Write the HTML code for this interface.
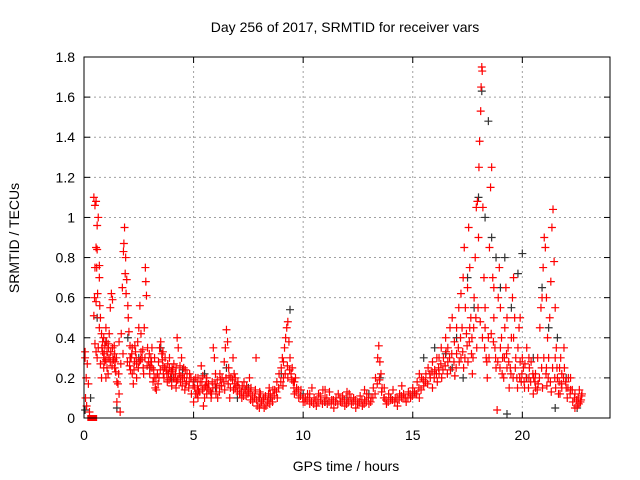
<!DOCTYPE html>
<html><head><meta charset="utf-8"><style>
html,body{margin:0;padding:0;background:#fff}
svg{display:block;font-family:"Liberation Sans",sans-serif}
</style></head><body>
<svg id="chart" width="640" height="480" xmlns="http://www.w3.org/2000/svg">
<rect width="640" height="480" fill="#fff"/>
<text x="345" y="32" text-anchor="middle" font-size="14">Day 256 of 2017, SRMTID for receiver vars</text>
<text x="346" y="471" text-anchor="middle" font-size="14">GPS time / hours</text>
<text transform="translate(19,238) rotate(-90)" text-anchor="middle" font-size="14">SRMTID / TECUs</text>
<g id="grid"></g>
<g id="ticks"></g>
<g id="blackpts"></g>
<g id="redpts"></g>
<rect x="84" y="57" width="526" height="361" fill="none" stroke="#000" stroke-width="1"/>
</svg>
<script>
const xTicks=[0,5,10,15,20];
const yTicks=[0,0.2,0.4,0.6,0.8,1,1.2,1.4,1.6,1.8];
const yTickLabels=["0","0.2","0.4","0.6","0.8","1","1.2","1.4","1.6","1.8"];
const redPts=[
[0.05,0.33],[0.05,0.3],[0.07,0.1],[0.1,0.2],[0.12,0.06],[0.15,0.27],[0.2,0.17],[0.25,0.03],
[0.45,1.1],[0.5,1.06],[0.55,1.08],[0.6,0.96],[0.65,1.0],[0.55,0.85],[0.6,0.84],[0.5,0.75],[0.58,0.75],[0.7,0.76],
[0.48,0.6],[0.55,0.58],[0.62,0.62],[0.7,0.7],[0.72,0.56],[0.45,0.51],[0.5,0.37],[0.55,0.33],[0.6,0.3],[0.65,0.35],
[0.7,0.45],[0.75,0.5],[0.8,0.42],[0.85,0.38],[0.9,0.3],[0.95,0.36],[1.0,0.29],[1.05,0.33],[1.1,0.37],[1.15,0.42],
[0.75,0.27],[0.8,0.2],[0.9,0.25],[1.0,0.2],[1.1,0.22],[1.2,0.55],[1.25,0.62],[1.3,0.59],[1.35,0.29],[1.4,0.32],
[1.45,0.23],[1.5,0.18],[1.55,0.17],[1.6,0.12],[1.5,0.08],[1.65,0.03],[1.6,0.38],[1.7,0.42],[1.75,0.65],[1.8,0.83],
[1.82,0.87],[1.85,0.95],[1.9,0.8],[1.88,0.72],[1.95,0.69],[1.92,0.62],[2.0,0.56],[2.02,0.5],[2.05,0.43],[2.1,0.36],
[2.15,0.3],[2.2,0.22],[2.25,0.17],[2.3,0.28],[2.35,0.33],[2.4,0.27],[2.45,0.38],[2.5,0.45],[2.55,0.56],[2.6,0.42],
[2.65,0.3],[2.7,0.25],[2.75,0.45],[2.8,0.75],[2.82,0.68],[2.85,0.61],[2.9,0.35],[2.95,0.28],[3.0,0.22],[3.05,0.3],
[3.1,0.25],[3.15,0.18],[3.2,0.2],[3.25,0.15],[3.3,0.14],[3.35,0.22],[3.4,0.28],[3.45,0.35],[3.5,0.38],[3.55,0.32],
[3.6,0.26],[3.65,0.2],[3.7,0.3],[3.75,0.24],[3.8,0.18],[3.85,0.22],[3.9,0.25],[3.95,0.2],[4.0,0.16],[4.05,0.24],
[4.1,0.27],[4.15,0.2],[4.2,0.15],[4.25,0.4],[4.3,0.35],[4.35,0.22],[4.4,0.18],[4.5,0.2],[4.55,0.25],[4.6,0.14],
[4.65,0.17],[4.7,0.22],[4.8,0.18],[4.9,0.12],[5.0,0.08],[5.05,0.15],[5.1,0.2],[5.15,0.12],[5.2,0.1],[5.3,0.18],
[5.35,0.26],[5.4,0.14],[5.45,0.06],[5.5,0.1],[5.55,0.16],[5.6,0.2],[5.7,0.14],[5.8,0.1],[5.85,0.18],[5.9,0.35],
[5.95,0.3],[6.0,0.22],[6.05,0.15],[6.1,0.1],[6.2,0.16],[6.3,0.2],[6.4,0.28],[6.45,0.35],[6.5,0.44],[6.55,0.38],
[6.6,0.25],[6.65,0.1],[6.7,0.2],[6.8,0.3],[6.85,0.22],[6.9,0.15],[7.0,0.13],[7.1,0.12],[7.2,0.1],[7.3,0.14],
[7.4,0.11],[7.5,0.13],[7.55,0.2],[7.6,0.09],[7.7,0.08],[7.8,0.12],[7.85,0.3],[7.9,0.06],[8.0,0.05],[8.1,0.08],
[8.2,0.1],[8.3,0.06],[8.4,0.09],[8.5,0.12],[8.6,0.08],[8.7,0.14],[8.8,0.18],[8.9,0.22],[9.0,0.25],[9.05,0.3],
[9.1,0.2],[9.15,0.35],[9.2,0.4],[9.25,0.45],[9.3,0.48],[9.35,0.38],[9.4,0.3],[9.45,0.22],[9.5,0.25],[9.55,0.18],
[9.6,0.12],[9.65,0.2],[9.7,0.15],[9.8,0.1],[9.9,0.14],[10.0,0.08],[10.1,0.1],[10.2,0.12],[10.3,0.07],[10.4,0.15],
[10.5,0.1],[10.6,0.06],[10.7,0.12],[10.8,0.09],[10.9,0.14],[11.0,0.1],[11.1,0.07],[11.2,0.13],[11.3,0.09],[11.4,0.05],
[11.5,0.1],[11.6,0.12],[11.7,0.08],[11.8,0.11],[11.9,0.06],[12.0,0.09],[12.1,0.12],[12.2,0.07],[12.3,0.1],[12.4,0.05],
[12.5,0.08],[12.6,0.11],[12.7,0.06],[12.8,0.09],[12.9,0.12],[13.0,0.07],[13.1,0.1],[13.2,0.15],[13.3,0.2],[13.4,0.3],
[13.45,0.36],[13.5,0.28],[13.55,0.22],[13.6,0.15],[13.7,0.1],[13.8,0.07],[13.9,0.12],[14.0,0.09],[14.1,0.14],[14.2,0.1],
[14.3,0.06],[14.4,0.12],[14.5,0.16],[14.6,0.1],[14.7,0.08],[14.8,0.13],[14.9,0.1],[15.0,0.15],[15.1,0.12],[15.2,0.18],
[15.3,0.1],[15.4,0.2],[15.5,0.16],[15.6,0.22],[15.7,0.25],[15.8,0.2],[15.9,0.28],[16.0,0.24],[16.1,0.3],[16.2,0.22],
[16.3,0.35],[16.4,0.3],[16.5,0.4],[16.6,0.28],[16.7,0.45],[16.8,0.5],[16.9,0.38],[17.0,0.32],[17.1,0.55],[17.2,0.62],
[17.25,0.45],[17.3,0.7],[17.35,0.85],[17.4,0.55],[17.45,0.42],[17.5,0.65],[17.55,0.95],[17.6,0.75],[17.65,0.5],[17.7,0.4],
[17.75,0.3],[17.8,0.6],[17.85,0.8],[17.9,1.05],[17.95,1.08],[18.0,0.9],[18.02,1.25],[18.05,1.38],[18.1,1.53],[18.12,1.65],
[18.15,1.75],[18.17,1.73],[18.2,1.05],[18.25,0.7],[18.3,0.55],[18.35,0.3],[18.4,0.2],[18.45,0.4],[18.5,0.85],[18.55,1.15],
[18.6,1.25],[18.65,0.7],[18.7,0.5],[18.75,0.35],[18.8,0.25],[18.85,0.04],[18.9,0.6],[18.95,0.75],[19.0,0.55],[19.05,0.4],
[19.1,0.3],[19.15,0.2],[19.2,0.45],[19.25,0.65],[19.3,0.5],[19.35,0.35],[19.4,0.15],[19.45,0.25],[19.5,0.4],[19.55,0.6],
[19.6,0.7],[19.65,0.5],[19.7,0.3],[19.75,0.2],[19.8,0.35],[19.85,0.45],[19.9,0.28],[19.95,0.18],[20.0,0.3],[20.05,0.25],
[20.1,0.15],[20.2,0.35],[20.3,0.2],[20.4,0.28],[20.5,0.12],[20.6,0.22],[20.7,0.3],[20.8,0.45],[20.85,0.55],[20.9,0.6],
[20.95,0.75],[21.0,0.9],[21.05,0.85],[21.1,0.6],[21.15,0.4],[21.2,0.3],[21.25,0.5],[21.3,0.68],[21.35,0.95],[21.4,1.04],
[21.45,0.78],[21.5,0.55],[21.55,0.35],[21.6,0.2],[21.65,0.12],[21.7,0.25],[21.75,0.3],[21.8,0.22],[21.9,0.35],[22.0,0.15],
[22.05,0.1],[22.1,0.2],[22.2,0.14],[22.3,0.08],[22.4,0.12],[22.5,0.06],[22.55,0.1],[22.6,0.14],[22.65,0.08],[22.7,0.11],
[0.9,0.4],[1.0,0.45],[1.1,0.3],[1.2,0.28],[1.3,0.35],[1.4,0.25],[2.1,0.3],[2.2,0.35],[2.4,0.2],[2.6,0.33],[3.1,0.35],
[3.6,0.33],[3.9,0.3],[4.2,0.25],[4.45,0.3],[5.2,0.2],[5.6,0.12],[6.2,0.22],[6.9,0.2],[7.3,0.18],[8.05,0.12],[8.45,0.15],
[9.1,0.28],[9.3,0.2],[9.6,0.18],[10.3,0.12],[11.0,0.14],[12.0,0.13],[12.8,0.14],[13.7,0.15],[14.5,0.1],[15.3,0.22],
[15.9,0.15],[16.2,0.3],[16.6,0.35],[17.0,0.45],[17.2,0.3],[17.6,0.45],[18.3,0.45],[18.7,0.65],[19.0,0.35],[19.3,0.25],
[19.6,0.4],[19.9,0.5],[20.3,0.3],[20.6,0.15],[21.1,0.25],[21.5,0.3],[21.8,0.15],[22.2,0.2],[22.4,0.05]
];
const redPtsExtra=[
[0.85,0.33],[0.95,0.28],[1.05,0.25],[1.12,0.35],[1.18,0.3],[1.28,0.26],[1.38,0.36],[1.48,0.3],[1.58,0.22],[1.68,0.27],
[1.78,0.32],[1.98,0.28],[2.08,0.26],[2.18,0.32],[2.28,0.24],[2.38,0.3],[2.48,0.25],[2.58,0.29],[2.68,0.34],[2.78,0.3],
[2.88,0.26],[2.98,0.32],[3.08,0.28],[3.18,0.24],[3.28,0.2],[3.38,0.17],[3.48,0.24],[3.58,0.29],[3.68,0.25],[3.78,0.22],
[3.88,0.19],[3.98,0.23],[4.08,0.2],[4.18,0.22],[4.28,0.19],[4.38,0.26],[4.48,0.16],[4.58,0.2],[4.68,0.18],[4.78,0.15],
[4.88,0.2],[4.98,0.16],[5.08,0.12],[5.18,0.16],[5.28,0.13],[5.38,0.18],[5.48,0.15],[5.58,0.18],[5.68,0.17],[5.78,0.13],
[5.88,0.15],[5.98,0.17],[6.08,0.19],[6.18,0.13],[6.28,0.16],[6.38,0.18],[6.48,0.2],[6.58,0.17],[6.68,0.15],[6.78,0.19],
[6.88,0.17],[6.98,0.16],[7.08,0.15],[7.18,0.13],[7.28,0.11],[7.38,0.14],[7.48,0.12],[7.58,0.13],[7.68,0.11],[7.78,0.1],
[7.88,0.09],[7.98,0.1],[8.08,0.07],[8.18,0.09],[8.28,0.11],[8.38,0.08],[8.48,0.07],[8.58,0.1],[8.68,0.11],[8.78,0.13],
[8.88,0.15],[8.98,0.18],[9.08,0.16],[9.18,0.22],[9.28,0.26],[9.38,0.24],[9.48,0.19],[9.58,0.15],[9.68,0.13],[9.78,0.14],
[9.88,0.11],[9.98,0.1],[10.08,0.08],[10.18,0.09],[10.28,0.1],[10.38,0.08],[10.48,0.07],[10.58,0.09],[10.68,0.08],[10.78,0.11],
[10.88,0.07],[10.98,0.08],[11.08,0.1],[11.18,0.08],[11.28,0.07],[11.38,0.09],[11.48,0.08],[11.58,0.07],[11.68,0.1],[11.78,0.08],
[11.88,0.09],[11.98,0.07],[12.08,0.08],[12.18,0.1],[12.28,0.08],[12.38,0.09],[12.48,0.07],[12.58,0.08],[12.68,0.09],[12.78,0.07],
[12.88,0.08],[12.98,0.1],[13.08,0.08],[13.18,0.1],[13.28,0.12],[13.38,0.17],[13.48,0.19],[13.58,0.13],[13.68,0.1],[13.78,0.09],
[13.88,0.08],[13.98,0.1],[14.08,0.09],[14.18,0.08],[14.28,0.1],[14.38,0.09],[14.48,0.11],[14.58,0.12],[14.68,0.1],[14.78,0.1],
[14.88,0.12],[14.98,0.11],[15.08,0.13],[15.18,0.12],[15.28,0.15],[15.38,0.14],[15.48,0.19],[15.58,0.18],[15.68,0.17],[15.78,0.22],
[15.88,0.23],[15.98,0.2],[16.08,0.22],[16.18,0.25],[16.28,0.27],[16.38,0.24],[16.48,0.26],[16.58,0.22],[16.68,0.3],[16.78,0.32],
[16.88,0.28],[16.98,0.25],[17.08,0.35],[17.18,0.4],[17.28,0.33],[17.38,0.3],[17.48,0.36],[17.58,0.38],[17.68,0.32],[17.78,0.45],
[17.88,0.5],[17.98,0.55],[18.08,0.48],[18.18,0.4],[18.28,0.35],[18.38,0.28],[18.48,0.3],[18.58,0.42],[18.68,0.38],[18.78,0.3],
[18.88,0.28],[18.98,0.25],[19.08,0.22],[19.18,0.3],[19.28,0.32],[19.38,0.28],[19.48,0.22],[19.58,0.2],[19.68,0.25],[19.78,0.15],
[19.88,0.2],[19.98,0.22],[20.08,0.18],[20.18,0.2],[20.28,0.15],[20.38,0.18],[20.48,0.22],[20.58,0.18],[20.68,0.14],[20.78,0.2],
[20.88,0.25],[20.98,0.3],[21.08,0.22],[21.18,0.2],[21.28,0.18],[21.38,0.25],[21.48,0.2],[21.58,0.25],[21.68,0.18],[21.78,0.17],
[21.88,0.2],[21.98,0.18],[22.08,0.15],[22.18,0.12],[22.28,0.14],[22.38,0.1],[22.48,0.09],[22.58,0.07],[22.68,0.09],[22.72,0.12],
[0.82,0.35],[0.92,0.32],[1.02,0.38],[1.22,0.33],[1.32,0.3],[1.42,0.28],[2.12,0.24],[2.32,0.36],[2.52,0.28],[2.72,0.22],
[3.02,0.26],[3.22,0.3],[3.42,0.2],[3.62,0.22],[3.82,0.27],[4.02,0.25],[4.22,0.18],[4.42,0.21],[4.62,0.24],[4.82,0.22],
[5.02,0.19],[5.22,0.14],[5.42,0.21],[5.62,0.15],[5.82,0.12],[6.02,0.12],[6.22,0.19],[6.42,0.14],[6.62,0.21],[6.82,0.14],
[7.02,0.18],[7.22,0.16],[7.42,0.16],[7.62,0.15],[7.82,0.14],[8.02,0.13],[8.22,0.05],[8.42,0.12],[8.62,0.14],[8.82,0.1],
[16.12,0.18],[16.32,0.2],[16.52,0.33],[16.72,0.24],[16.92,0.21],[17.12,0.28],[17.32,0.25],[17.52,0.28],[17.72,0.22],[17.92,0.35],
[20.12,0.27],[20.32,0.25],[20.52,0.2],[20.72,0.17],[20.92,0.15],[21.12,0.16],[21.32,0.13],[21.52,0.15],[21.72,0.12],[21.92,0.25]
];
const blackPts=[
[0.05,0.04],[0.3,0.1],[0.6,0.5],[1.0,0.38],[1.5,0.05],[2.0,0.4],[2.5,0.3],[3.0,0.25],[3.5,0.35],[4.0,0.2],
[4.5,0.24],[5.0,0.18],[5.5,0.22],[6.0,0.15],[6.5,0.25],[7.0,0.1],[7.5,0.15],[8.0,0.1],[8.5,0.1],[9.4,0.54],
[9.0,0.22],[10.0,0.12],[11.0,0.08],[12.0,0.1],[13.0,0.12],[13.5,0.2],[14.0,0.1],[15.0,0.12],[15.5,0.3],[16.0,0.35],
[16.5,0.32],[17.0,0.4],[17.5,0.7],[17.8,0.55],[18.0,1.1],[18.15,1.63],[18.3,1.0],[18.45,1.48],[18.6,0.9],[18.8,0.8],
[19.0,0.65],[19.2,0.8],[19.5,0.55],[19.8,0.72],[20.0,0.82],[20.2,0.2],[20.5,0.3],[20.9,0.65],[21.2,0.45],[21.6,0.4],
[22.0,0.2],[22.5,0.05],[21.5,0.05],[19.3,0.02],[16.8,0.25],[17.3,0.2]
];
const NS='http://www.w3.org/2000/svg';
const X0=84,X1=610,Y0=418,Y1=57,XMAX=24,YMAX=1.8;
function sx(t){return X0+t/XMAX*(X1-X0);}
function sy(v){return Y0-v/YMAX*(Y0-Y1);}
const grid=document.getElementById('grid'),ticks=document.getElementById('ticks');
function mk(tag,attrs,parent){const e=document.createElementNS(NS,tag);for(const k in attrs)e.setAttribute(k,attrs[k]);parent.appendChild(e);return e;}
yTicks.forEach((v,i)=>{
  const y=sy(v);
  if(i>0){const g=mk('line',{x1:X0,x2:X1,y1:y,y2:y,stroke:'#a0a0a0','stroke-dasharray':'2,3'},grid);
  
  }
  const t=mk('line',{x1:X0,x2:X0+6,y1:y,y2:y,stroke:'#000'},ticks);
  
  
  const t2=mk('line',{x1:X1-6,x2:X1,y1:y,y2:y,stroke:'#000'},ticks);
  
  
  const l=mk('text',{x:X0-9,y:y+5,'text-anchor':'end','font-size':'14'},ticks);
  l.textContent=yTickLabels[i];
  
  
});
xTicks.forEach((t,i)=>{
  const x=sx(t);
  if(i>0){const g=mk('line',{x1:x,x2:x,y1:Y0,y2:Y1,stroke:'#a0a0a0','stroke-dasharray':'2,3'},grid);
  
  }
  const k=mk('line',{x1:x,x2:x,y1:Y0,y2:Y0-6,stroke:'#000'},ticks);
  
  
  const k2=mk('line',{x1:x,x2:x,y1:Y1,y2:Y1+6,stroke:'#000'},ticks);
  
  
  const l=mk('text',{x:x,y:Y0+22,'text-anchor':'middle','font-size':'14'},ticks);
  l.textContent=String(t);
  
  
});
function plus(parent,pts,color,name){
  let d='';
  pts.forEach(p=>{const x=sx(p[0]),y=sy(p[1]);d+=`M${x-4},${y}h8M${x},${y-4}v8`;});
  const e=mk('path',{d:d,stroke:color,'stroke-width':'1.2',fill:'none'},parent);
  
  
}
plus(document.getElementById('blackpts'),blackPts,'#333','black-markers');
plus(document.getElementById('redpts'),redPts,'#ff0000','red-markers');
plus(document.getElementById('redpts'),redPtsExtra,'#ff0000','red-markers-dense');
const zr=mk('rect',{x:sx(0.15),y:Y0-3,width:sx(0.6)-sx(0.15),height:6,fill:'#ff0000'},document.getElementById('redpts'));


</script>
</body></html>
